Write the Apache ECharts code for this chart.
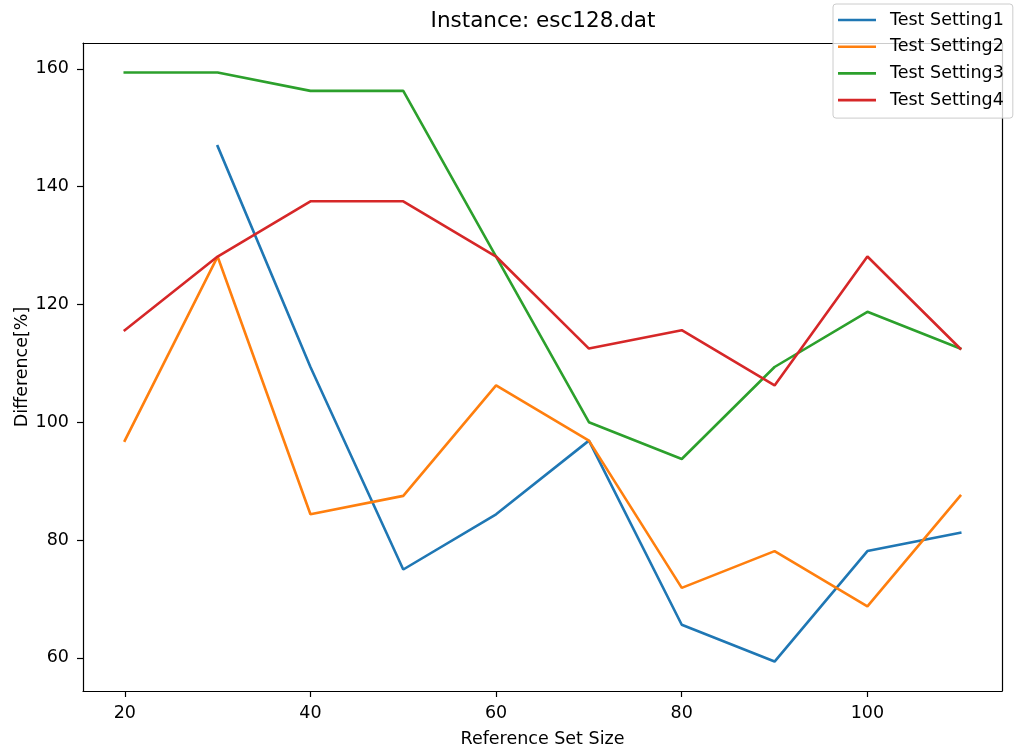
<!DOCTYPE html>
<html>
<head>
<meta charset="utf-8">
<script src="https://cdn.jsdelivr.net/npm/echarts@6/dist/echarts.min.js"></script>
<style>
  html, body { margin: 0; padding: 0; background: #fff; }
  #chart { width: 1014px; height: 754px; }
</style>
</head>
<body>
<div id="chart"></div>
<script>
// Reference set sizes on the x axis
const sizes = [20, 30, 40, 50, 60, 70, 80, 90, 100, 110];

// Difference [%] per test setting (null = no result for that size)
const setting1 = [null, 146.875, 109.375, 75, 84.375, 96.875, 65.625, 59.375, 78.125, 81.25];
const setting2 = [96.875, 128.125, 84.375, 87.5, 106.25, 96.875, 71.875, 78.125, 68.75, 87.5];
const setting3 = [159.375, 159.375, 156.25, 156.25, 128.125, 100, 93.75, 109.375, 118.75, 112.5];
const setting4 = [115.625, 128.125, 137.5, 137.5, 128.125, 112.5, 115.625, 106.25, 128.125, 112.5];

const seriesNames = ['Test Setting1', 'Test Setting2', 'Test Setting3', 'Test Setting4'];
const seriesValues = [setting1, setting2, setting3, setting4];
const colors = ['#1f77b4', '#ff7f0e', '#2ca02c', '#d62728'];

const xTicks = [20, 40, 60, 80, 100];
const yTicks = [60, 80, 100, 120, 140, 160];

const FONT = 'DejaVu Sans';
const LABEL_SIZE = 17.5;
const X_RANGE = [15.5, 114.5];
const Y_RANGE = [54.375, 164.375];

const spine = { show: true, onZero: false, lineStyle: { color: '#000', width: 1.2 } };

const chart = echarts.init(document.getElementById('chart'), null, { renderer: 'canvas' });

chart.setOption({
  animation: false,
  backgroundColor: '#fff',
  textStyle: { fontFamily: FONT },
  title: {
    text: 'Instance: esc128.dat',
    left: 543,
    top: 10,
    textAlign: 'center',
    padding: 0,
    textStyle: { fontFamily: FONT, fontSize: 21.5, fontWeight: 'normal', color: '#000' }
  },
  legend: {
    orient: 'vertical',
    left: 833,
    top: 4,
    padding: [6, 9, 8, 5],
    itemGap: 6.7,
    itemWidth: 38,
    itemHeight: 20,
    icon: 'path://M0,9 L38,9 L38,11.6 L0,11.6 Z',
    borderColor: '#cccccc',
    borderWidth: 1,
    borderRadius: 3,
    backgroundColor: 'rgba(255,255,255,0.8)',
    textStyle: { fontFamily: FONT, fontSize: LABEL_SIZE, color: '#000', lineHeight: 20, padding: [0, 0, 0, 9] },
    data: seriesNames
  },
  grid: {
    left: 83,
    right: 12,
    top: 43,
    bottom: 63,
    show: false
  },
  xAxis: [
    {
      type: 'value',
      min: X_RANGE[0],
      max: X_RANGE[1],
      name: 'Reference Set Size',
      nameLocation: 'middle',
      nameGap: 39,
      nameMoveOverlap: false,
      nameTextStyle: { fontFamily: FONT, fontSize: LABEL_SIZE, color: '#000' },
      splitLine: { show: false },
      axisLine: spine,
      axisTick: { show: true, length: 6, customValues: xTicks, lineStyle: { color: '#000', width: 1.2 } },
      axisLabel: { margin: 13, customValues: xTicks, fontFamily: FONT, fontSize: LABEL_SIZE, color: '#000' }
    },
    {
      // top spine of the frame
      type: 'value',
      position: 'top',
      min: X_RANGE[0],
      max: X_RANGE[1],
      splitLine: { show: false },
      axisLine: spine,
      axisTick: { show: false },
      axisLabel: { show: false }
    }
  ],
  yAxis: [
    {
      type: 'value',
      min: Y_RANGE[0],
      max: Y_RANGE[1],
      name: 'Difference[%]',
      nameLocation: 'middle',
      nameGap: 52,
      nameMoveOverlap: false,
      nameTextStyle: { fontFamily: FONT, fontSize: LABEL_SIZE, color: '#000' },
      splitLine: { show: false },
      axisLine: spine,
      axisTick: { show: true, length: 6, customValues: yTicks, lineStyle: { color: '#000', width: 1.2 } },
      axisLabel: { margin: 14, customValues: yTicks, fontFamily: FONT, fontSize: LABEL_SIZE, color: '#000' }
    },
    {
      // right spine of the frame
      type: 'value',
      position: 'right',
      min: Y_RANGE[0],
      max: Y_RANGE[1],
      splitLine: { show: false },
      axisLine: spine,
      axisTick: { show: false },
      axisLabel: { show: false }
    }
  ],
  series: seriesNames.map((name, i) => ({
    name: name,
    type: 'line',
    xAxisIndex: 0,
    yAxisIndex: 0,
    data: sizes.map((s, j) => [s, seriesValues[i][j]]),
    symbol: 'none',
    showSymbol: false,
    connectNulls: false,
    lineStyle: { color: colors[i], width: 2.6, cap: 'square' },
    itemStyle: { color: colors[i] },
    emphasis: { disabled: true }
  }))
});
</script>
</body>
</html>
